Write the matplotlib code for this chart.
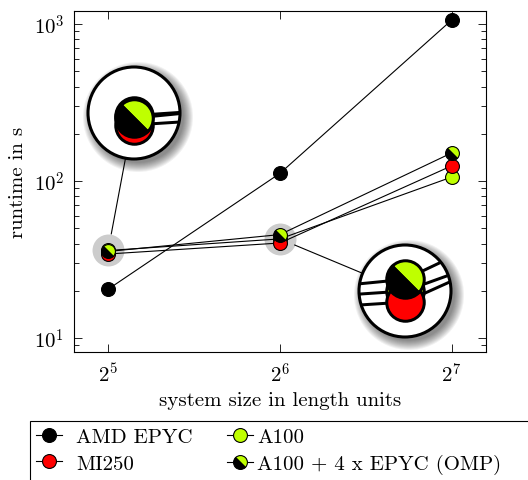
import matplotlib
matplotlib.use('Agg')
import matplotlib.pyplot as plt
from matplotlib.markers import MarkerStyle
from matplotlib.patches import Circle, Rectangle
from matplotlib.lines import Line2D
from matplotlib.transforms import Affine2D
from matplotlib.ticker import NullLocator, FixedLocator

plt.rcParams['font.family'] = 'serif'
plt.rcParams['font.serif'] = ['cmr10']
plt.rcParams['mathtext.fontset'] = 'cm'
plt.rcParams['axes.unicode_minus'] = False
plt.rcParams['font.size'] = 15

# data
sizes = [32, 64, 128]
size_labels = [r'$2^{5}$', r'$2^{6}$', r'$2^{7}$']
amd_epyc = [20.5, 112, 1060]
mi250 = [34.3, 40.3, 125]
a100 = [36.1, 42.8, 106]
a100_omp = [35.6, 45.6, 151]
y_ticks = [10, 100, 1000]
y_labels = [r'$10^{1}$', r'$10^{2}$', r'$10^{3}$']
spots = [(32, 36.6), (64, 42.8)]          # spotlight centres (data coords)
lens_centres = [(134, 114), (405, 292)]   # magnifier centres (image px)

W, H = 528, 481
fig = plt.figure(figsize=(W / 100, H / 100), dpi=100)


def fx(px):
    return px / W


def fy(py):
    return 1 - py / H


green = '#bfff00'
half = MarkerStyle('o', fillstyle='top', transform=Affine2D().rotate_deg(-45))
series = [
    ('AMD EPYC', amd_epyc, dict(marker='o', mfc='black'), 3),
    ('MI250', mi250, dict(marker='o', mfc='red'), 5),
    ('A100', a100, dict(marker='o', mfc=green), 4),
    ('A100 + 4 x EPYC (OMP)', a100_omp, dict(marker=half, mfc=green, mfcalt='black'), 6),
]
LW, MS, MEW = 0.8, 10, 0.8

ax = fig.add_axes([fx(74), fy(353), (486 - 74) / W, (353 - 12) / H])
ax.set_xscale('log', base=2)
ax.set_yscale('log')
ax.set_xlim(2 ** 4.8, 2 ** 7.2)
ax.set_ylim(10 ** 0.911, 10 ** 3.083)

for name, vals, st, z in series:
    ax.plot(sizes, vals, color='k', lw=LW, ms=MS, mec='k', mew=MEW,
            zorder=z, label=name, **st)

for sx, sy in spots:
    ax.plot([sx], [sy], 'o', ms=23, color='#cccccc', mec='none', zorder=1)

ax.xaxis.set_major_locator(FixedLocator(sizes))
ax.xaxis.set_minor_locator(NullLocator())
ax.set_xticklabels(size_labels)
ax.yaxis.set_major_locator(FixedLocator(y_ticks))
ax.set_yticklabels(y_labels)
ax.tick_params(which='both', direction='in', top=True, right=True, width=0.6)
ax.tick_params(which='major', length=6, pad=7)
ax.tick_params(which='minor', length=3.5)
for s in ax.spines.values():
    s.set_linewidth(0.8)

fig.text(fx(18), fy(182), 'runtime in s', rotation=90, ha='center', va='center')
fig.text(fx(280), fy(401), 'system size in length units', ha='center', va='center')


def spy(spot, centre, mag=2.7, radius=46, halfw=62):
    cx, cy = centre
    iax = fig.add_axes([fx(cx - halfw), fy(cy + halfw), 2 * halfw / W, 2 * halfw / H])
    iax.set_xscale('log', base=2)
    iax.set_yscale('log')
    px, py = ax.transData.transform(spot)
    r = halfw / mag
    inv = ax.transData.inverted()
    x0, y0 = inv.transform((px - r, py - r))
    x1, y1 = inv.transform((px + r, py + r))
    iax.set_xlim(x0, x1)
    iax.set_ylim(y0, y1)
    iax.axis('off')
    u = 1 / (2 * halfw)
    rr = radius * u
    # soft shadow
    for k in range(10):
        iax.add_patch(Circle((0.5 + 4 * u, 0.5 - 4 * u), rr + k * u, transform=iax.transAxes,
                             fc='black', ec='none', alpha=0.055, zorder=0))
    iax.add_patch(Circle((0.5, 0.5), rr, transform=iax.transAxes, fc='white', ec='none', zorder=1))
    clip = Circle((0.5, 0.5), rr, transform=iax.transAxes)
    for name, vals, st, z in series:
        l, = iax.plot(sizes, vals, color='k', lw=LW * mag, ms=MS * mag, mec='k',
                      mew=MEW * mag, zorder=z, **st)
        l.set_clip_path(clip)
    iax.add_patch(Circle((0.5, 0.5), rr, transform=iax.transAxes, fc='none', ec='black',
                         lw=2.2, zorder=10))
    # connector between spotlight and lens
    sx, sy = px, H - py
    dx, dy = cx - sx, cy - sy
    d = (dx ** 2 + dy ** 2) ** 0.5
    dx, dy = dx / d, dy / d
    fig.add_artist(Line2D([fx(sx + 16 * dx), fx(cx - radius * dx)],
                          [fy(sy + 16 * dy), fy(cy - radius * dy)],
                          color='k', lw=0.8, transform=fig.transFigure))


for spot, centre in zip(spots, lens_centres):
    spy(spot, centre)

handles, labels = ax.get_legend_handles_labels()
common = dict(loc='upper left', bbox_transform=fig.transFigure, frameon=False,
              borderaxespad=0, borderpad=0.3, handlelength=1.25, labelspacing=0.4)
fig.legend(handles[:2], labels[:2], bbox_to_anchor=(fx(30), fy(422)),
           handletextpad=0.65, **common)
fig.legend(handles[2:], labels[2:], bbox_to_anchor=(fx(221), fy(422)),
           handletextpad=0.2, **common)
fig.add_artist(Rectangle((fx(30), fy(540)), (600 - 30) / W, (540 - 422) / H,
                         transform=fig.transFigure, fill=False, ec='black', lw=0.8))

fig.savefig('out.png', dpi=100)
